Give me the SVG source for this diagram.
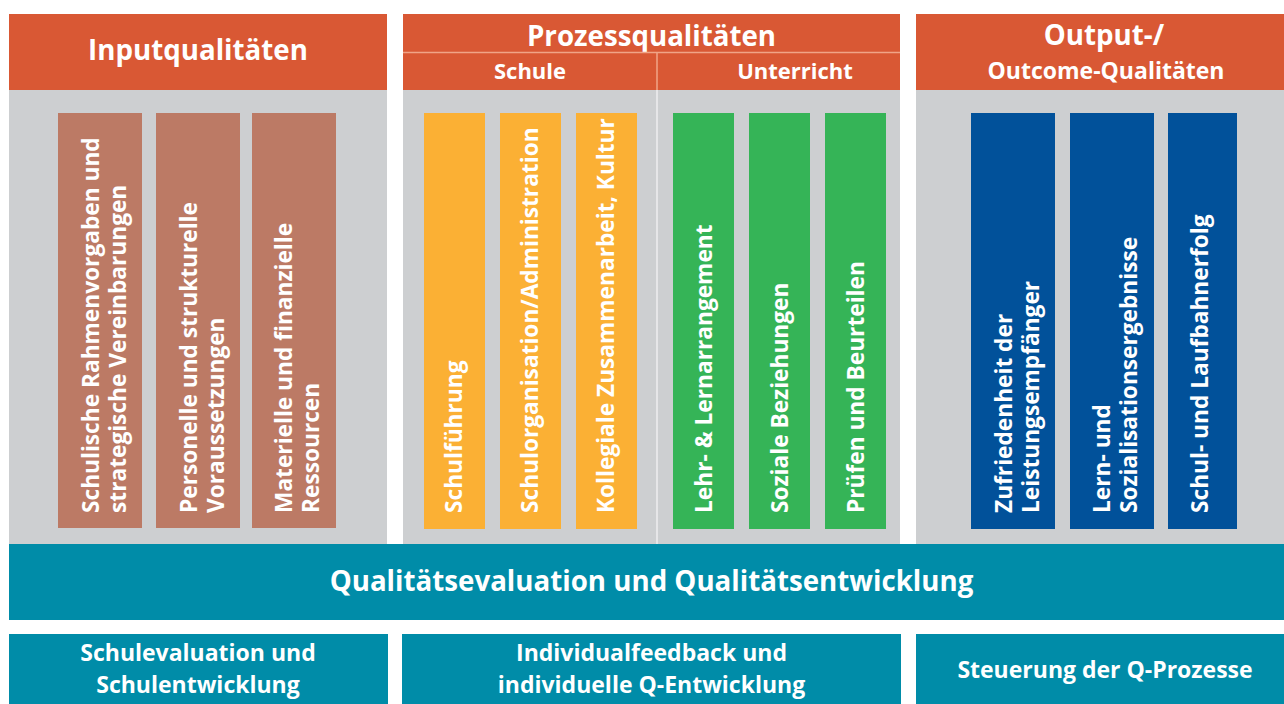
<svg xmlns="http://www.w3.org/2000/svg" width="1284" height="704" viewBox="0 0 1284 704">
<style>
.hdr{fill:#d95834}
.bg{fill:#cdcfd1}
.teal{fill:#008ca8}
.t{font-family:"Open Sans","Noto Sans",sans-serif;font-weight:700;fill:#ffffff}
.h1{font-size:27.7px;text-anchor:middle}
.h2{font-size:22px;text-anchor:middle}
.v{font-size:22.7px}
.b{font-size:23px;text-anchor:middle}
.brown{fill:#bc7a65}
.orange{fill:#fbb034}
.green{fill:#35b457}
.blue{fill:#01519a}
</style>
<rect width="1284" height="704" fill="#ffffff"/>
<g id="col-input">
<rect class="hdr" x="9" y="14" width="378" height="76"/>
<rect class="bg" x="9" y="90" width="378" height="454"/>
<text class="t h1" x="198" y="60">Inputqualitäten</text>
</g>
<g id="col-prozess">
<rect class="hdr" x="403" y="14" width="497" height="76"/>
<rect class="bg" x="403" y="90" width="497" height="454"/>
<text class="t h1" x="651.5" y="46">Prozessqualitäten</text>
<text class="t h2" x="530" y="79">Schule</text>
<text class="t h2" x="795" y="79">Unterricht</text>
</g>
<g id="col-output">
<rect class="hdr" x="916" y="14" width="368" height="76"/>
<rect class="bg" x="916" y="90" width="368" height="454"/>
<text class="t h1" x="1104" y="45">Output-/</text>
<text class="t h2" x="1106" y="79" style="font-size:23px">Outcome-Qualitäten</text>
</g>
<g id="connectors">
<line x1="403" y1="52.5" x2="900" y2="52.5" stroke="#f0a487" stroke-width="1.5"/>
<line x1="657" y1="52" x2="657" y2="90" stroke="#f0a487" stroke-width="1.5"/>
<line x1="657" y1="90" x2="657" y2="544" stroke="#eeeeef" stroke-width="1.5"/>
</g>
<g id="in1"><rect class="brown" x="58" y="113" width="84" height="415"/>
<text class="t v" transform="translate(99,513) rotate(-90)">Schulische Rahmenvorgaben und</text>
<text class="t v" transform="translate(126,513) rotate(-90)">strategische Vereinbarungen</text></g>
<g id="in2"><rect class="brown" x="156" y="113" width="84" height="415"/>
<text class="t v" transform="translate(197,513) rotate(-90)">Personelle und strukturelle</text>
<text class="t v" transform="translate(224,513) rotate(-90)">Voraussetzungen</text></g>
<g id="in3"><rect class="brown" x="252" y="113" width="84" height="415"/>
<text class="t v" transform="translate(292,513) rotate(-90)">Materielle und finanzielle</text>
<text class="t v" transform="translate(319,513) rotate(-90)">Ressourcen</text></g>
<g id="p1"><rect class="orange" x="424" y="113" width="61" height="416"/>
<text class="t v" transform="translate(462,513) rotate(-90)">Schulführung</text></g>
<g id="p2"><rect class="orange" x="500" y="113" width="61" height="416"/>
<text class="t v" transform="translate(538,513) rotate(-90)">Schulorganisation/Administration</text></g>
<g id="p3"><rect class="orange" x="576" y="113" width="61" height="416"/>
<text class="t v" transform="translate(614,513) rotate(-90)">Kollegiale Zusammenarbeit, Kultur</text></g>
<g id="p4"><rect class="green" x="673" y="113" width="61" height="416"/>
<text class="t v" transform="translate(712,513) rotate(-90)">Lehr- &amp; Lernarrangement</text></g>
<g id="p5"><rect class="green" x="749" y="113" width="61" height="416"/>
<text class="t v" transform="translate(788,513) rotate(-90)">Soziale Beziehungen</text></g>
<g id="p6"><rect class="green" x="825" y="113" width="61" height="416"/>
<text class="t v" transform="translate(864,513) rotate(-90)">Prüfen und Beurteilen</text></g>
<g id="o1"><rect class="blue" x="971" y="113" width="84" height="416"/>
<text class="t v" transform="translate(1012,513) rotate(-90)">Zufriedenheit der</text>
<text class="t v" transform="translate(1039,513) rotate(-90)">Leistungsempfänger</text></g>
<g id="o2"><rect class="blue" x="1070" y="113" width="84" height="416"/>
<text class="t v" transform="translate(1110,513) rotate(-90)">Lern- und</text>
<text class="t v" transform="translate(1137,513) rotate(-90)">Sozialisationsergebnisse</text></g>
<g id="o3"><rect class="blue" x="1168" y="113" width="69" height="416"/>
<text class="t v" transform="translate(1208,513) rotate(-90)">Schul- und Laufbahnerfolg</text></g>
<g id="qe"><rect class="teal" x="9" y="544" width="1275" height="76"/>
<text class="t h1" x="651.5" y="591">Qualitätsevaluation und Qualitätsentwicklung</text></g>
<g id="b1"><rect class="teal" x="9" y="634" width="379" height="70"/>
<text class="t b" x="198" y="661">Schulevaluation und</text>
<text class="t b" x="198" y="693">Schulentwicklung</text></g>
<g id="b2"><rect class="teal" x="402" y="634" width="499" height="70"/>
<text class="t b" x="651.5" y="661">Individualfeedback und</text>
<text class="t b" x="651.5" y="693">individuelle Q-Entwicklung</text></g>
<g id="b3"><rect class="teal" x="916" y="634" width="368" height="70"/>
<text class="t b" x="1105" y="678">Steuerung der Q-Prozesse</text></g>
</svg>
